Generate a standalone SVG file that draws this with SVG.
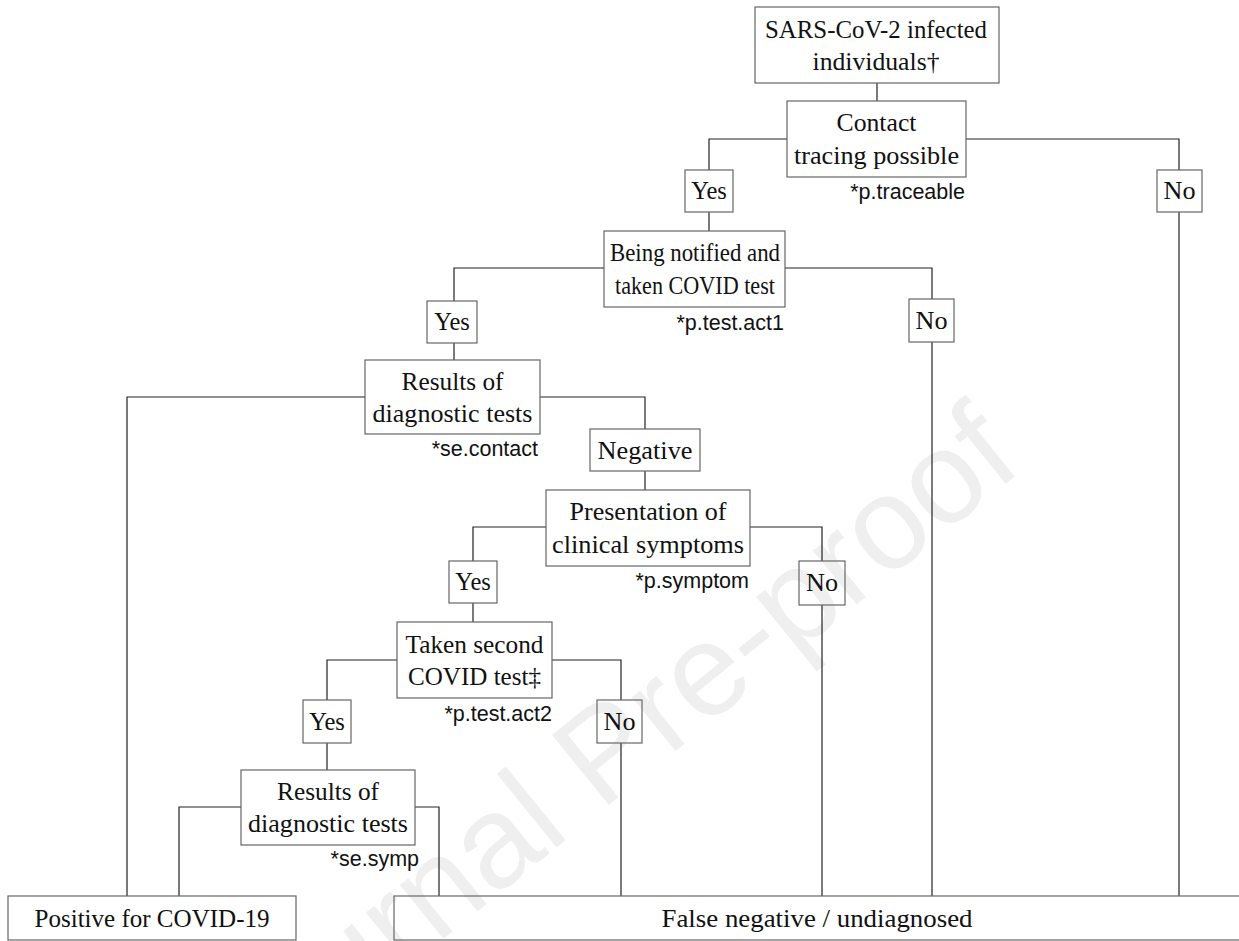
<svg xmlns="http://www.w3.org/2000/svg" width="1239" height="941" viewBox="0 0 1239 941">
<style>
.box{fill:none;stroke:#666;stroke-width:1.2}
.ln{fill:none;stroke:#222;stroke-width:1.2}
.t{font-family:"Liberation Serif","Times New Roman",serif;font-size:24.5px;fill:#111;text-anchor:middle}
.p{font-family:"Liberation Sans",Arial,sans-serif;font-size:21.5px;fill:#111;text-anchor:end}
.wm{font-family:"Liberation Sans",Arial,sans-serif;font-size:131px;fill:#efefef}
</style>
<rect width="1239" height="941" fill="#fff"/>
<text class="wm" text-anchor="end" transform="translate(1025,468) rotate(-39)">Journal Pre-proof</text>
<g id="connectors">
<path class="ln" d="M877,83V101"/>
<path class="ln" d="M709,170V139H787M966,139H1179V170"/>
<path class="ln" d="M709,212V231"/>
<path class="ln" d="M1179,212V896"/>
<path class="ln" d="M454,301V268H604M785,268H932V299"/>
<path class="ln" d="M932,342V896"/>
<path class="ln" d="M454,343V360"/>
<path class="ln" d="M127,896V397H365M540,397H645V429"/>
<path class="ln" d="M645,471V490"/>
<path class="ln" d="M473,561V527H546M750,527H822V561"/>
<path class="ln" d="M822,605V896"/>
<path class="ln" d="M473,603V622"/>
<path class="ln" d="M327,700V660H397M552,660H621V700"/>
<path class="ln" d="M621,743V896"/>
<path class="ln" d="M327,743V770"/>
<path class="ln" d="M179,896V807H241M415,807H439V896"/>
</g>
<g id="n-infected"><rect class="box" x="755" y="7" width="244" height="76"/><text class="t" x="876" y="38" textLength="222" lengthAdjust="spacingAndGlyphs">SARS-CoV-2 infected</text><text class="t" x="876" y="70" textLength="127" lengthAdjust="spacingAndGlyphs">individuals†</text></g>
<g id="n-contact"><rect class="box" x="787" y="101" width="179" height="76"/><text class="t" x="876.5" y="131" textLength="80" lengthAdjust="spacingAndGlyphs">Contact</text><text class="t" x="876.5" y="164" textLength="165" lengthAdjust="spacingAndGlyphs">tracing possible</text><text class="p" x="965" y="199">*p.traceable</text></g>
<g id="n-yes1"><rect class="box" x="685" y="170" width="48" height="42"/><text class="t" x="709" y="199">Yes</text></g>
<g id="n-no1"><rect class="box" x="1157" y="170" width="45" height="42"/><text class="t" x="1179.5" y="199" textLength="32" lengthAdjust="spacingAndGlyphs">No</text></g>
<g id="n-notified"><rect class="box" x="604" y="231" width="181" height="76"/><text class="t" x="695" y="261" textLength="170" lengthAdjust="spacingAndGlyphs">Being notified and</text><text class="t" x="695" y="294" textLength="160" lengthAdjust="spacingAndGlyphs">taken COVID test</text><text class="p" x="784" y="330">*p.test.act1</text></g>
<g id="n-yes2"><rect class="box" x="427" y="301" width="50" height="42"/><text class="t" x="452" y="330">Yes</text></g>
<g id="n-no2"><rect class="box" x="909" y="299" width="45" height="43"/><text class="t" x="931.5" y="329" textLength="32" lengthAdjust="spacingAndGlyphs">No</text></g>
<g id="n-results1"><rect class="box" x="365" y="360" width="175" height="74"/><text class="t" x="452.5" y="390" textLength="102" lengthAdjust="spacingAndGlyphs">Results of</text><text class="t" x="452.5" y="422" textLength="160" lengthAdjust="spacingAndGlyphs">diagnostic tests</text><text class="p" x="538" y="456">*se.contact</text></g>
<g id="n-negative"><rect class="box" x="590" y="429" width="110" height="42"/><text class="t" x="645" y="459" textLength="95" lengthAdjust="spacingAndGlyphs">Negative</text></g>
<g id="n-symptoms"><rect class="box" x="546" y="490" width="204" height="76"/><text class="t" x="648" y="520" textLength="157" lengthAdjust="spacingAndGlyphs">Presentation of</text><text class="t" x="648" y="553" textLength="192" lengthAdjust="spacingAndGlyphs">clinical symptoms</text><text class="p" x="749" y="588">*p.symptom</text></g>
<g id="n-yes3"><rect class="box" x="449" y="561" width="48" height="42"/><text class="t" x="473" y="590">Yes</text></g>
<g id="n-no3"><rect class="box" x="799" y="561" width="46" height="44"/><text class="t" x="822" y="591" textLength="32" lengthAdjust="spacingAndGlyphs">No</text></g>
<g id="n-second"><rect class="box" x="397" y="622" width="155" height="76"/><text class="t" x="474.5" y="653" textLength="138" lengthAdjust="spacingAndGlyphs">Taken second</text><text class="t" x="474.5" y="685" textLength="133" lengthAdjust="spacingAndGlyphs">COVID test‡</text><text class="p" x="552" y="721">*p.test.act2</text></g>
<g id="n-yes4"><rect class="box" x="303" y="700" width="48" height="43"/><text class="t" x="327" y="730">Yes</text></g>
<g id="n-no4"><rect class="box" x="597" y="700" width="45" height="43"/><text class="t" x="619.5" y="730" textLength="32" lengthAdjust="spacingAndGlyphs">No</text></g>
<g id="n-results2"><rect class="box" x="241" y="770" width="174" height="75"/><text class="t" x="328" y="800" textLength="102" lengthAdjust="spacingAndGlyphs">Results of</text><text class="t" x="328" y="832" textLength="160" lengthAdjust="spacingAndGlyphs">diagnostic tests</text><text class="p" x="419" y="866">*se.symp</text></g>
<g id="n-positive"><rect class="box" x="8" y="896" width="288" height="44"/><text class="t" x="152" y="927" textLength="235" lengthAdjust="spacingAndGlyphs">Positive for COVID-19</text></g>
<g id="n-false"><rect class="box" x="394" y="896" width="850" height="44"/><text class="t" x="817" y="927" textLength="311" lengthAdjust="spacingAndGlyphs">False negative / undiagnosed</text></g>
</svg>
